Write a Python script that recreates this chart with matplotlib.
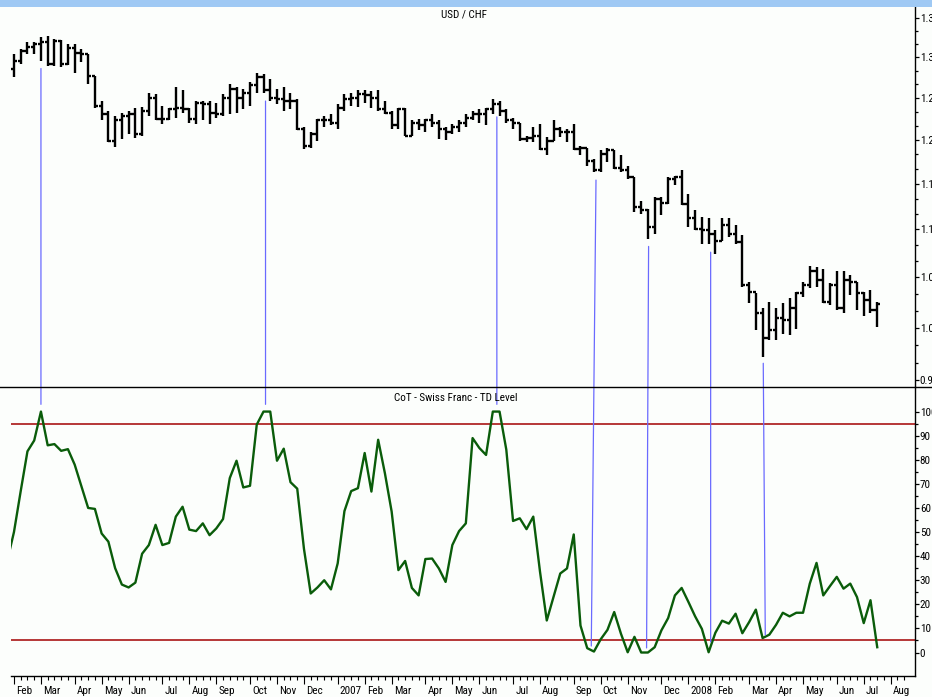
import matplotlib
matplotlib.use("Agg")
import matplotlib.pyplot as plt
import matplotlib.transforms as mtransforms
import numpy as np
import pandas as pd
from matplotlib import font_manager
from matplotlib.lines import Line2D
from matplotlib.patches import ConnectionPatch, Rectangle
from matplotlib.ticker import FixedLocator, FixedFormatter, NullFormatter

# weekly USD/CHF bars (Friday weeks, first bar 2006-02-03)
first_week = "2006-02-03"
opens = [1.285, 1.296, 1.308, 1.313, 1.317, 1.320, 1.291, 1.321, 1.292, 1.312,
         1.306, 1.304, 1.277, 1.240, 1.230, 1.199, 1.223, 1.228, 1.230, 1.207,
         1.234, 1.250, 1.225, 1.225, 1.236, 1.238, 1.236, 1.225, 1.244, 1.242,
         1.232, 1.230, 1.250, 1.261, 1.250, 1.256, 1.265, 1.275, 1.259, 1.250,
         1.248, 1.246, 1.246, 1.213, 1.193, 1.207, 1.223, 1.223, 1.220, 1.238,
         1.248, 1.250, 1.255, 1.253, 1.250, 1.236, 1.232, 1.217, 1.236, 1.205,
         1.220, 1.217, 1.223, 1.220, 1.213, 1.209, 1.215, 1.220, 1.226, 1.230,
         1.230, 1.236, 1.243, 1.234, 1.223, 1.220, 1.201, 1.202, 1.205, 1.189,
         1.199, 1.213, 1.209, 1.209, 1.189, 1.191, 1.176, 1.165, 1.184, 1.188,
         1.168, 1.165, 1.157, 1.124, 1.121, 1.103, 1.133, 1.129, 1.155, 1.157,
         1.128, 1.112, 1.101, 1.099, 1.095, 1.088, 1.105, 1.095, 1.087, 1.042,
         1.035, 1.014, 0.990, 0.998, 1.009, 1.007, 1.019, 1.034, 1.042, 1.057,
         1.047, 1.025, 1.042, 1.019, 1.047, 1.045, 1.034, 1.027, 1.017]
highs = [1.304, 1.310, 1.320, 1.320, 1.326, 1.327, 1.323, 1.322, 1.317, 1.317,
         1.310, 1.304, 1.277, 1.246, 1.234, 1.228, 1.232, 1.234, 1.238, 1.239,
         1.256, 1.254, 1.240, 1.238, 1.263, 1.259, 1.238, 1.246, 1.246, 1.246,
         1.244, 1.254, 1.267, 1.263, 1.261, 1.269, 1.281, 1.279, 1.273, 1.261,
         1.263, 1.256, 1.248, 1.215, 1.209, 1.225, 1.228, 1.230, 1.242, 1.255,
         1.256, 1.259, 1.259, 1.258, 1.259, 1.246, 1.234, 1.238, 1.238, 1.223,
         1.225, 1.225, 1.231, 1.223, 1.215, 1.219, 1.223, 1.230, 1.234, 1.236,
         1.238, 1.248, 1.246, 1.236, 1.226, 1.220, 1.205, 1.215, 1.219, 1.203,
         1.223, 1.215, 1.213, 1.219, 1.193, 1.191, 1.178, 1.188, 1.191, 1.188,
         1.182, 1.170, 1.157, 1.131, 1.122, 1.135, 1.135, 1.157, 1.159, 1.165,
         1.139, 1.121, 1.113, 1.112, 1.099, 1.112, 1.112, 1.105, 1.094, 1.045,
         1.034, 1.019, 1.025, 1.019, 1.024, 1.029, 1.035, 1.045, 1.062, 1.061,
         1.059, 1.044, 1.056, 1.056, 1.052, 1.045, 1.035, 1.037, 1.025]
lows = [1.275, 1.292, 1.304, 1.304, 1.296, 1.289, 1.289, 1.288, 1.290, 1.281,
        1.294, 1.267, 1.238, 1.223, 1.197, 1.192, 1.201, 1.207, 1.202, 1.205,
        1.228, 1.223, 1.219, 1.223, 1.226, 1.232, 1.220, 1.219, 1.223, 1.219,
        1.226, 1.228, 1.230, 1.232, 1.236, 1.240, 1.256, 1.256, 1.246, 1.242,
        1.234, 1.236, 1.211, 1.189, 1.191, 1.199, 1.215, 1.217, 1.213, 1.234,
        1.240, 1.239, 1.244, 1.238, 1.234, 1.230, 1.213, 1.213, 1.204, 1.204,
        1.211, 1.209, 1.215, 1.201, 1.200, 1.207, 1.209, 1.215, 1.223, 1.220,
        1.217, 1.230, 1.228, 1.220, 1.213, 1.199, 1.197, 1.197, 1.188, 1.182,
        1.199, 1.203, 1.197, 1.188, 1.182, 1.170, 1.163, 1.163, 1.174, 1.167,
        1.163, 1.155, 1.119, 1.117, 1.090, 1.095, 1.115, 1.128, 1.148, 1.126,
        1.103, 1.099, 1.085, 1.085, 1.074, 1.088, 1.092, 1.085, 1.040, 1.024,
        0.998, 0.972, 0.988, 0.988, 0.994, 0.993, 0.999, 1.030, 1.039, 1.040,
        1.024, 1.022, 1.017, 1.014, 1.032, 1.017, 1.011, 1.014, 1.001]
closes = [1.296, 1.308, 1.313, 1.317, 1.320, 1.291, 1.321, 1.292, 1.312, 1.306,
          1.304, 1.277, 1.240, 1.230, 1.199, 1.223, 1.228, 1.230, 1.207, 1.234,
          1.250, 1.225, 1.225, 1.236, 1.238, 1.236, 1.225, 1.244, 1.242, 1.232,
          1.230, 1.250, 1.261, 1.250, 1.256, 1.265, 1.275, 1.259, 1.250, 1.248,
          1.246, 1.246, 1.213, 1.193, 1.207, 1.223, 1.223, 1.220, 1.238, 1.248,
          1.250, 1.255, 1.253, 1.250, 1.236, 1.232, 1.217, 1.236, 1.205, 1.220,
          1.217, 1.223, 1.220, 1.213, 1.209, 1.215, 1.220, 1.226, 1.230, 1.230,
          1.236, 1.243, 1.234, 1.223, 1.220, 1.201, 1.202, 1.205, 1.189, 1.199,
          1.213, 1.209, 1.209, 1.189, 1.191, 1.176, 1.165, 1.184, 1.188, 1.168,
          1.165, 1.157, 1.124, 1.121, 1.103, 1.133, 1.129, 1.155, 1.157, 1.128,
          1.112, 1.101, 1.099, 1.095, 1.088, 1.105, 1.095, 1.087, 1.042, 1.035,
          1.014, 0.990, 0.998, 1.009, 1.007, 1.019, 1.034, 1.042, 1.057, 1.047,
          1.025, 1.042, 1.019, 1.047, 1.045, 1.034, 1.027, 1.017, 1.023]

# CoT Swiss Franc TD level, weekly, starting one week before the first bar
cot = [38, 50, 67, 83.5, 88, 100, 86, 86.5, 83.7, 84.4,
       78, 69, 60, 59.6, 49.4, 46, 35, 28.2, 27, 29,
       41, 44.6, 53, 44.6, 45.5, 56.4, 60.5, 51, 50.4, 53.6,
       48.7, 51.5, 55.4, 72.4, 79.6, 68.5, 69.2, 94.6, 100, 100,
       79.6, 84.6, 70.7, 68, 43, 24.5, 27, 30, 26.2, 37,
       58.7, 67, 68.2, 82.8, 66.8, 88.3, 74.4, 58.5, 34.2, 38,
       26.8, 23.7, 38.8, 39, 34.9, 29.3, 44.6, 50.4, 53.6, 89,
       84.9, 82, 100, 100, 84.2, 54.6, 55.7, 51.2, 56.4, 33.5,
       13.3, 23, 32.8, 34.9, 49, 11.2, 1.8, 0.4, 5.5, 9.4,
       16.8, 7.8, 0.1, 6.5, 0, 0, 2.2, 9.2, 14.3, 23.7,
       26.8, 21, 15, 9.8, 0.1, 8.2, 13.2, 12, 16.1, 8,
       12.6, 17.8, 6, 7.4, 11.5, 16.5, 15, 16.5, 16.5, 28.6,
       37.2, 23.7, 27.6, 31.4, 26.5, 28.6, 23, 12.2, 21.7, 2.2]
cot_bands = [95, 5]

# hand-drawn links: (bar index, price) on top -> (bar index, level) below
links = [(4.0, 1.286, 4.0, 103), (37.3, 1.246, 37.3, 103), (71.6, 1.227, 71.6, 103),
         (86.3, 1.154, 85.6, 2.7), (94.1, 1.082, 93.8, 1.9),
         (103.3, 1.076, 103.3, 4.4), (111.1, 0.966, 111.4, 7.3)]

price_ticks = [0.95, 1.00, 1.05, 1.10, 1.15, 1.20, 1.25, 1.30, 1.35]
cot_ticks = [0, 10, 20, 30, 40, 50, 60, 70, 80, 90, 100]

# pick a narrow font if one is installed, else a condensed face, else small DejaVu
fonts = font_manager.fontManager.ttflist
names = {f.name for f in fonts}
font, stretch, fsize = "DejaVu Sans", "normal", 7
for cand in ("Liberation Sans Narrow", "Roboto Condensed", "DejaVu Sans Condensed",
             "Open Sans Condensed", "Arial Narrow"):
    if cand in names:
        font, fsize = cand, 8
        break
else:
    for f in fonts:
        if f.stretch in ("condensed", "semi-condensed") and f.name in (
                "DejaVu Sans", "Roboto", "Open Sans", "Noto Sans", "Inter"):
            font, stretch, fsize = f.name, f.stretch, 8
            break
plt.rcParams["font.family"] = [font, "DejaVu Sans"]
plt.rcParams["font.stretch"] = stretch

W, H = 932, 697
fig = plt.figure(figsize=(W / 100, H / 100), dpi=100, facecolor="#fcfefc")

def fx(px):
    return px / W

def fy(py):
    return 1 - py / H

left, right = 11, 915
top, mid, bottom = 7, 387, 676
ax1 = fig.add_axes([fx(left), fy(mid), fx(right - left), (mid - top) / H])
ax2 = fig.add_axes([fx(left), fy(bottom), fx(right - left), (bottom - mid) / H])
for ax in (ax1, ax2):
    ax.set_facecolor("#fcfefc")
    ax.set_xlim(-0.44, 133.6)
    for s in ("left", "top"):
        ax.spines[s].set_visible(False)
    ax.spines["right"].set_linewidth(1.0)
    ax.spines["bottom"].set_linewidth(1.0)
    ax.yaxis.tick_right()

# --- price bars ---
xb = np.arange(len(closes))
w = 0.45
ax1.vlines(xb, lows, highs, color="black", lw=1.7)
ax1.hlines(opens, xb - w, xb, color="black", lw=1.7)
ax1.hlines(closes, xb, xb + w, color="black", lw=1.7)
ax1.set_yscale("log")
ax1.set_ylim(0.944, 1.3651)
ax1.yaxis.set_major_locator(FixedLocator(price_ticks))
ax1.yaxis.set_major_formatter(FixedFormatter([f"{t:.2f}" for t in price_ticks]))
minor = [t + k * 0.05 / 3 for t in price_ticks[:-1] for k in (1, 2)]
ax1.yaxis.set_minor_locator(FixedLocator(minor))
ax1.yaxis.set_minor_formatter(NullFormatter())
ax1.tick_params(axis="x", which="both", bottom=False, labelbottom=False)
ax1.tick_params(axis="y", which="major", length=3, width=0.9, labelsize=fsize, pad=0.5)
ax1.tick_params(axis="y", which="minor", length=2, width=0.9)
ax1.spines["bottom"].set_visible(False)

# --- CoT line ---
xc = np.arange(-1, len(cot) - 1)
for lvl in cot_bands:
    ax2.axhline(lvl, color="#b02828", lw=1.3, zorder=2)
ax2.plot(xc, cot, color="#0a5c0a", lw=1.7, zorder=3)
ax2.set_ylim(-9.75, 110.2)
ax2.yaxis.set_major_locator(FixedLocator(cot_ticks))
ax2.yaxis.set_major_formatter(FixedFormatter([str(t) for t in cot_ticks]))
ax2.yaxis.set_minor_locator(FixedLocator([t + 5 for t in cot_ticks[:-1]]))
ax2.tick_params(axis="y", which="major", length=3, width=0.9, labelsize=fsize, pad=0.5)
ax2.tick_params(axis="y", which="minor", length=2, width=0.9)

# month ticks at the first weekly bar of each month
weeks = pd.date_range(first_week, "2008-08-15", freq="W-FRI")
month_pos, month_lab = [], []
prev = None
for k, d in enumerate(weeks):
    if d.month != prev:
        month_pos.append(k)
        month_lab.append(str(d.year) if d.month == 1 else d.strftime("%b"))
    prev = d.month
ax2.xaxis.set_major_locator(FixedLocator(month_pos))
ax2.xaxis.set_major_formatter(FixedFormatter(month_lab))
ax2.xaxis.set_minor_locator(FixedLocator(np.arange(len(weeks))))
ax2.tick_params(axis="x", which="major", length=6, width=0.8, labelsize=fsize, pad=1)
ax2.tick_params(axis="x", which="minor", length=3, width=0.8)
shift = mtransforms.ScaledTranslation(1.5 / 72, 0, fig.dpi_scale_trans)
for lab in ax2.get_xticklabels():
    lab.set_horizontalalignment("left")
    lab.set_transform(lab.get_transform() + shift)

# blue connecting lines
for xa, pa, xb2, cb in links:
    con = ConnectionPatch(xyA=(xa, pa), coordsA=ax1.transData,
                          xyB=(xb2, cb), coordsB=ax2.transData,
                          color="#6a6aff", lw=0.9, zorder=1)
    fig.add_artist(con)

# panel divider across the whole width and the top band
fig.add_artist(Line2D([0, 1], [fy(mid), fy(mid)], transform=fig.transFigure,
                      color="black", lw=1.0))
fig.add_artist(Rectangle((0, fy(top)), 1, top / H, transform=fig.transFigure,
                         color="#9fc9f4", lw=0))

fig.text(fx(464), fy(14), "USD / CHF", ha="center", va="center", fontsize=fsize)
fig.text(fx(456), fy(398), "CoT - Swiss Franc - TD Level", ha="center",
         va="center", fontsize=fsize)

fig.savefig("out.png", dpi=100, facecolor=fig.get_facecolor())
